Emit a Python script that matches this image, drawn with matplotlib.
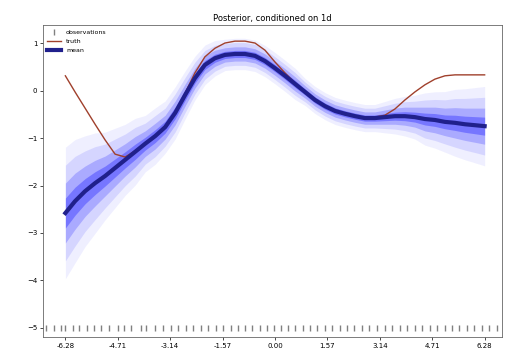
import matplotlib

matplotlib.use("Agg")
import matplotlib.pyplot as plt
import numpy as np

# grid the posterior summary is reported on
x_grid = [-6.28, -5.99, -5.69, -5.39, -5.09, -4.79, -4.49, -4.19, -3.89,
          -3.59, -3.29, -2.99, -2.69, -2.40, -2.10, -1.80, -1.50, -1.20,
          -0.90, -0.60, -0.30, 0.00, 0.30, 0.60, 0.90, 1.20, 1.50, 1.80,
          2.10, 2.40, 2.69, 2.99, 3.29, 3.59, 3.89, 4.19, 4.49, 4.79,
          5.09, 5.39, 5.69, 5.99, 6.28]
post_mean = [-2.58, -2.33, -2.12, -1.95, -1.80, -1.63, -1.46, -1.29, -1.12,
             -0.96, -0.77, -0.47, -0.09, 0.26, 0.54, 0.68, 0.75, 0.77,
             0.77, 0.73, 0.62, 0.47, 0.31, 0.14, -0.03, -0.20, -0.33, -0.43,
             -0.49, -0.54, -0.58, -0.58, -0.56, -0.54, -0.54, -0.56, -0.60,
             -0.62, -0.66, -0.68, -0.71, -0.73, -0.75]
post_std = [0.63, 0.59, 0.53, 0.48, 0.42, 0.38, 0.34, 0.32, 0.27,
            0.27, 0.25, 0.25, 0.23, 0.21, 0.19, 0.17, 0.15, 0.15,
            0.15, 0.15, 0.15, 0.15, 0.15, 0.15, 0.13, 0.13, 0.13, 0.13,
            0.13, 0.13, 0.13, 0.13, 0.15, 0.17, 0.19, 0.21, 0.25, 0.27,
            0.29, 0.32, 0.34, 0.36, 0.38]

# ground-truth function on the same grid
truth = [0.31, -0.03, -0.37, -0.71, -1.04, -1.34, -1.40, -1.27, -1.13,
         -0.96, -0.75, -0.45, -0.05, 0.37, 0.71, 0.89, 1.00, 1.04,
         1.04, 1.00, 0.85, 0.60, 0.37, 0.16, -0.03, -0.20, -0.33, -0.43,
         -0.49, -0.54, -0.56, -0.56, -0.52, -0.39, -0.20, -0.03, 0.12,
         0.24, 0.31, 0.33, 0.33, 0.33, 0.33]

# x locations of the observations, shown as a rug along the bottom
obs_x = [-6.85, -6.62, -6.41, -6.30, -6.05, -5.88, -5.62, -5.41, -5.20,
         -4.98, -4.71, -4.52, -4.30, -4.02, -3.85, -3.60, -3.37, -3.11,
         -2.90, -2.66, -2.45, -2.21, -2.02, -1.78, -1.55, -1.33, -1.10,
         -0.91, -0.70, -0.46, -0.25, -0.04, 0.18, 0.40, 0.61, 0.85,
         1.04, 1.27, 1.50, 1.71, 1.95, 2.16, 2.38, 2.62, 2.83, 3.05,
         3.29, 3.50, 3.74, 3.96, 4.18, 4.40, 4.63, 4.85, 5.08, 5.30,
         5.52, 5.75, 5.97, 6.20, 6.42, 6.65]
obs_level = -5.0

tick_pos = [-6.28, -4.71, -3.14, -1.57, 0.00, 1.57, 3.14, 4.71, 6.28]
tick_labels = ["-6.28", "-4.71", "-3.14", "-1.57", "0.00",
               "1.57", "3.14", "4.71", "6.28"]
ytick_pos = [1, 0, -1, -2, -3, -4, -5]

x = np.array(x_grid)
mu = np.array(post_mean)
sd = np.array(post_std)

fig = plt.figure(figsize=(5.05, 3.61), dpi=100)
ax = fig.add_axes([43 / 505, 1 - 337 / 361, 459 / 505, 312 / 361])

# nested credible bands, lighter further out
for k, alpha in [(2.2, 0.07), (1.6, 0.13), (1.0, 0.25), (0.5, 0.40)]:
    ax.fill_between(x, mu - k * sd, mu + k * sd, color="#2a2aff",
                    alpha=alpha, linewidth=0)

ax.plot(obs_x, [obs_level] * len(obs_x), linestyle="none", marker="|",
        markersize=5, color="0.5", label="observations")
ax.plot(x, truth, color="#a0402c", linewidth=1.0, label="truth")
ax.plot(x, mu, color="#20208c", linewidth=3.0, label="mean")

ax.set_xlim(-6.95, 6.80)
ax.set_ylim(-5.19, 1.38)
ax.set_xticks(tick_pos)
ax.set_xticklabels(tick_labels)
ax.set_yticks(ytick_pos)
ax.tick_params(labelsize=5, length=2, width=0.5, pad=2)
for spine in ax.spines.values():
    spine.set_linewidth(0.6)
    spine.set_color("0.4")

ax.set_title("Posterior, conditioned on 1d", fontsize=6, pad=3)
ax.legend(loc="upper left", fontsize=4.5, frameon=False, handlelength=2.2,
          borderaxespad=0.3, labelspacing=0.6)

fig.savefig("out.png", dpi=100)
